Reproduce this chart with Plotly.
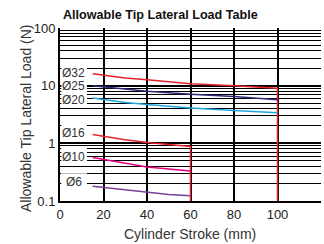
import math
import plotly.graph_objects as go

# ---- data ----
stroke_32 = [15, 30, 40, 60, 80, 100, 100]
load_32 = [16.1, 13.6, 12.7, 10.8, 10.0, 9.0, 0.1]
stroke_25 = [15, 30, 40, 60, 80, 100]
load_25 = [10.0, 8.6, 8.0, 7.1, 6.5, 5.7]
stroke_20 = [15, 30, 40, 60, 80, 100]
load_20 = [6.1, 5.1, 4.7, 4.1, 3.7, 3.4]
stroke_16 = [15, 30, 40, 50, 60, 60]
load_16 = [1.42, 1.15, 1.03, 0.95, 0.88, 0.1]
stroke_10 = [15, 30, 40, 50, 60]
load_10 = [0.57, 0.45, 0.39, 0.36, 0.33]
stroke_6 = [15, 30, 40, 50, 60]
load_6 = [0.18, 0.155, 0.14, 0.13, 0.123]

bore_labels = ["Ø32", "Ø25", "Ø20", "Ø16", "Ø10", "Ø6"]
bore_label_y = [16.9, 9.7, 5.7, 1.54, 0.59, 0.21]

x_ticks = [0, 20, 40, 60, 80, 100, 120]
y_ticks = [0.1, 1, 10, 100]
y_ticktext = ["0.1", "1", "10", "100"]

series = [
    (stroke_32, load_32, "#e8222c"),
    (stroke_25, load_25, "#2c2a7c"),
    (stroke_20, load_20, "#1fa6df"),
    (stroke_16, load_16, "#e8222c"),
    (stroke_10, load_10, "#e5007e"),
    (stroke_6, load_6, "#7b3f98"),
]

fig = go.Figure()
for xs, ys, col in series:
    fig.add_trace(go.Scatter(x=xs, y=ys, mode="lines",
                             line=dict(color=col, width=1.5),
                             showlegend=False, hoverinfo="skip"))

def py(v):
    return (math.log10(v) + 1) / 3.0

shapes = []
for lo, hi in [(0.145, 0.36), (0.44, 0.86), (1.15, 2.6), (4.4, 26)]:
    shapes.append(dict(type="rect", xref="x", yref="paper",
                       x0=0.6, x1=12.4, y0=py(lo), y1=py(hi),
                       fillcolor="white", line=dict(width=0), layer="above"))
shapes.append(dict(type="line", xref="x", yref="paper", x0=0.6, x1=12.4,
                   y0=py(0.3), y1=py(0.3), line=dict(color="#bbbbbb", width=1),
                   layer="above"))

sans = "Liberation Sans, Arial, sans-serif"
annotations = []
for txt, yv in zip(bore_labels, bore_label_y):
    annotations.append(dict(text=txt, x=6.3, y=math.log10(yv), xref="x", yref="y",
                            showarrow=False, xanchor="center", yanchor="middle",
                            font=dict(family=sans, size=12, color="#333333")))

annotations.append(dict(text="<b>Allowable Tip Lateral Load Table</b>",
                        xref="paper", yref="paper", x=0.005, y=1.075,
                        xanchor="left", yanchor="middle", showarrow=False,
                        font=dict(family=sans, size=12.6, color="#111111")))
annotations.append(dict(text="Allowable Tip Lateral Load (N)", textangle=-90,
                        xref="paper", yref="paper", x=-0.13, y=0.48,
                        xanchor="center", yanchor="middle", showarrow=False,
                        font=dict(family=sans, size=14, color="#333333")))
annotations.append(dict(text="Cylinder Stroke (mm)",
                        xref="paper", yref="paper", x=0.498, y=-0.19,
                        xanchor="center", yanchor="middle", showarrow=False,
                        font=dict(family=sans, size=14, color="#333333")))

fig.update_layout(
    width=324, height=244,
    margin=dict(l=60, r=3, t=28, b=43),
    paper_bgcolor="white", plot_bgcolor="white",
    template="none",
    shapes=shapes, annotations=annotations,
    xaxis=dict(range=[0, 120], tickmode="array", tickvals=x_ticks,
               showgrid=True, gridcolor="black", gridwidth=2,
               showline=True, linecolor="black", linewidth=2,
               zeroline=False, ticks="", automargin=False,
               tickfont=dict(family=sans, size=13, color="#222222")),
    yaxis=dict(type="log", range=[-1, 2], tickmode="array",
               tickvals=y_ticks, ticktext=y_ticktext,
               showgrid=True, gridcolor="black", gridwidth=2,
               minor=dict(showgrid=True, gridcolor="black", gridwidth=1.3,
                          dtick="D1", ticks=""),
               showline=True, linecolor="black", linewidth=2,
               zeroline=False, ticks="", automargin=False,
               tickfont=dict(family=sans, size=13, color="#222222")),
)

fig.write_html("out.html", config={"displayModeBar": False},
               post_script="document.body.style.margin='0';document.body.style.overflow='hidden';")
